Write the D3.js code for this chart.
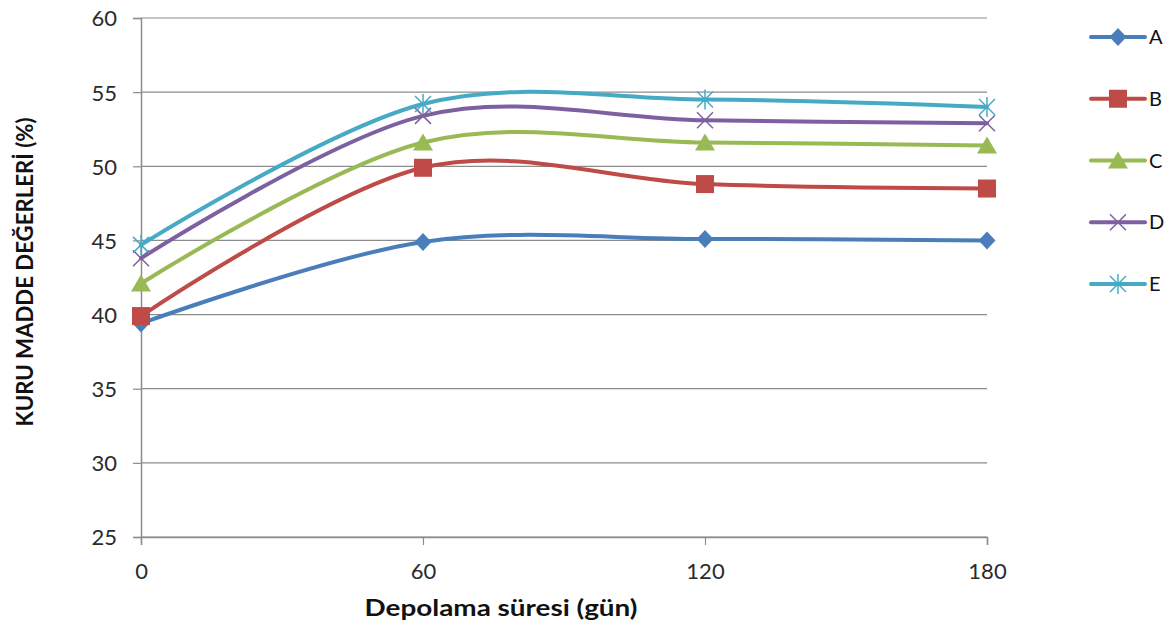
<!DOCTYPE html>
<html>
<head>
<meta charset="utf-8">
<script src="https://cdn.jsdelivr.net/npm/d3@7"></script>
<style>
  html, body { margin: 0; padding: 0; background: #fff; }
  svg { display: block; }
</style>
</head>
<body>
<svg id="chart" width="1171" height="628"></svg>
<script>
// Storage time (days) on the x axis
const days = [0, 60, 120, 180];
const xTicks = [0, 60, 120, 180];
const yTicks = [25, 30, 35, 40, 45, 50, 55, 60];

// Dry matter values (%) for each group
const seriesNames = ["A", "B", "C", "D", "E"];
const valuesA = [39.4, 44.9, 45.1, 45.0];
const valuesB = [39.9, 49.9, 48.8, 48.5];
const valuesC = [42.1, 51.6, 51.6, 51.4];
const valuesD = [43.8, 53.4, 53.1, 52.9];
const valuesE = [44.7, 54.2, 54.5, 54.0];
const seriesColors = ["#4A7EBB", "#BE4B48", "#98B954", "#7D60A0", "#46AAC5"];
const seriesMarkers = ["diamond", "square", "triangle", "cross", "star"];

const allValues = [valuesA, valuesB, valuesC, valuesD, valuesE];
const series = seriesNames.map((name, i) => ({
  name, values: allValues[i], color: seriesColors[i], marker: seriesMarkers[i]
}));

const svg = d3.select("#chart");
const plotLeft = 141, plotRight = 987, plotTop = 18, plotBottom = 537;

const x = d3.scaleLinear().domain([0, 180]).range([plotLeft, plotRight]);
const y = d3.scaleLinear().domain([25, 60]).range([plotBottom, plotTop]);

const font = "Lato, 'Open Sans', sans-serif";

// Horizontal gridlines
svg.append("g")
  .selectAll("line")
  .data(yTicks)
  .join("line")
  .attr("x1", plotLeft).attr("x2", plotRight)
  .attr("y1", d => y(d)).attr("y2", d => y(d))
  .attr("stroke", "#8c8c8c").attr("stroke-width", 1.2);

// Y axis
const yAxis = svg.append("g")
  .attr("transform", `translate(${plotLeft},0)`)
  .call(d3.axisLeft(y).tickValues(yTicks).tickSize(8).tickPadding(16).tickFormat(d3.format("d")));
yAxis.select(".domain").attr("stroke", "#8c8c8c").attr("stroke-width", 1.5);
yAxis.selectAll(".tick line").attr("stroke", "#8c8c8c").attr("stroke-width", 1.2);
yAxis.selectAll(".tick text")
  .attr("font-family", font).attr("font-size", 22).attr("fill", "#2a2a2a")
  .attr("dy", "0.36em");

// X axis
const xAxis = svg.append("g")
  .attr("transform", `translate(0,${plotBottom})`)
  .call(d3.axisBottom(x).tickValues(xTicks).tickSize(8).tickPadding(18).tickFormat(d3.format("d")));
xAxis.select(".domain").attr("stroke", "#8c8c8c").attr("stroke-width", 1.5);
xAxis.selectAll(".tick line").attr("stroke", "#8c8c8c").attr("stroke-width", 1.2);
xAxis.selectAll(".tick text")
  .attr("font-family", font).attr("font-size", 22).attr("fill", "#2a2a2a");

// Axis titles
svg.append("text")
  .attr("x", 501).attr("y", 616)
  .attr("text-anchor", "middle")
  .attr("font-family", font).attr("font-size", 23).attr("font-weight", "bold")
  .attr("textLength", 273).attr("lengthAdjust", "spacingAndGlyphs")
  .attr("fill", "#111")
  .text("Depolama süresi (gün)");

svg.append("text")
  .attr("transform", "translate(33,272) rotate(-90)")
  .attr("text-anchor", "middle")
  .attr("font-family", font).attr("font-size", 23).attr("font-weight", "bold")
  .attr("textLength", 309).attr("lengthAdjust", "spacingAndGlyphs")
  .attr("fill", "#111")
  .text("KURU MADDE DEĞERLERİ (%)");

// Marker drawing
function drawMarker(g, type, color) {
  if (type === "diamond") {
    g.append("path").attr("d", "M0,-9L8.5,0L0,9L-8.5,0Z").attr("fill", color);
  } else if (type === "square") {
    g.append("rect").attr("x", -9).attr("y", -9).attr("width", 18).attr("height", 18).attr("fill", color);
  } else if (type === "triangle") {
    g.append("path").attr("d", "M0,-9L10,8L-10,8Z").attr("fill", color);
  } else if (type === "cross") {
    g.append("path").attr("d", "M-8,-8L8,8M-8,8L8,-8")
      .attr("stroke", color).attr("stroke-width", 1.5).attr("fill", "none");
  } else if (type === "star") {
    g.append("path").attr("d", "M-8,-8L8,8M-8,8L8,-8M0,-10L0,10")
      .attr("stroke", color).attr("stroke-width", 1.5).attr("fill", "none");
  }
}

const line = d3.line()
  .x((d, i) => x(days[i]))
  .y(d => y(d))
  .curve(d3.curveCardinal.tension(0));

// Series lines and markers
series.forEach(s => {
  svg.append("path")
    .datum(s.values)
    .attr("d", line)
    .attr("fill", "none")
    .attr("stroke", s.color)
    .attr("stroke-width", 4)
    .attr("stroke-linejoin", "round")
    .attr("stroke-linecap", "round");
});
series.forEach(s => {
  s.values.forEach((v, i) => {
    const g = svg.append("g").attr("transform", `translate(${x(days[i])},${y(v)})`);
    drawMarker(g, s.marker, s.color);
  });
});

// Legend
const legendY = d3.scalePoint().domain(seriesNames).range([37, 284]);
series.forEach(s => {
  const ly = legendY(s.name);
  svg.append("line")
    .attr("x1", 1091).attr("x2", 1145).attr("y1", ly).attr("y2", ly)
    .attr("stroke", s.color).attr("stroke-width", 4).attr("stroke-linecap", "round");
  const g = svg.append("g").attr("transform", `translate(1118,${ly})`);
  drawMarker(g, s.marker, s.color);
  svg.append("text")
    .attr("x", 1149).attr("y", ly + 7)
    .attr("font-family", font).attr("font-size", 20).attr("fill", "#111")
    .text(s.name);
});
</script>
</body>
</html>
